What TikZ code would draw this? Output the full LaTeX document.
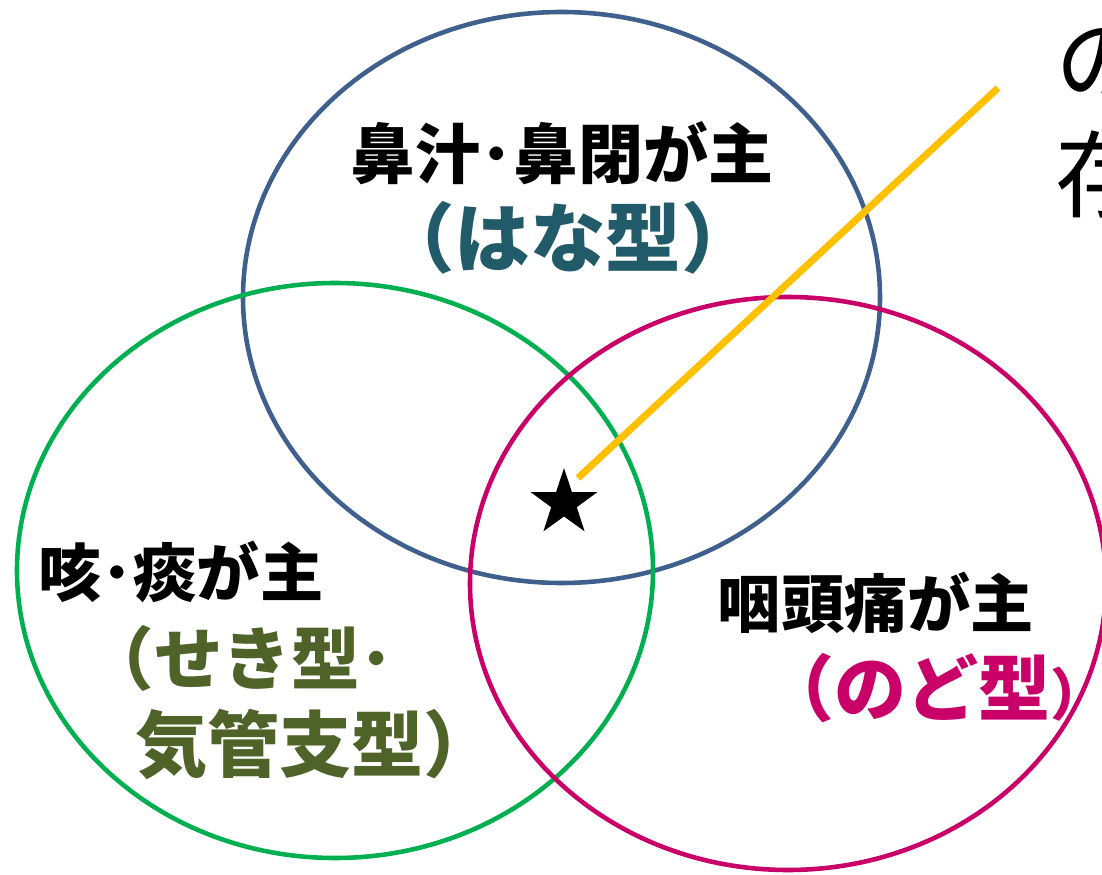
\documentclass[tikz,border=0pt]{standalone}
\usepackage{fontspec}
\usepackage{tikz}
\usetikzlibrary{shapes.geometric}
\newfontfamily\jp{Noto Sans CJK JP}
\definecolor{hanablue}{HTML}{3F5F8C}
\definecolor{sekigreen}{HTML}{00B050}
\definecolor{nodomag}{HTML}{C80068}
\definecolor{hanateal}{HTML}{215A69}
\definecolor{sekiolive}{HTML}{4F6228}
\definecolor{leadyellow}{HTML}{FFC000}
\tikzset{
	ring/.style={line width=1.3pt},
	head/.style={font=\jp\bfseries\fontsize{18.5}{22}\selectfont, inner sep=0pt},
	kind/.style={font=\jp\bfseries\fontsize{20.5}{24}\selectfont, inner sep=0pt},
}

\begin{document}
\begin{tikzpicture}
	
	\useasboundingbox (0,0) rectangle (11.02,-8.75);
	\clip (0,0) rectangle (11.02,-8.75);
	
	\draw[ring, hanablue]  (5.615,-2.975) ellipse (3.185 and 2.855);
	\draw[ring, sekigreen] (3.35,-5.705) ellipse (3.18 and 2.875);
	\draw[ring, nodomag]   (7.88,-5.835) ellipse (3.18 and 2.865);
	
	\node[head] (hanahead) at (5.62,-1.53) {鼻汁･鼻閉が主};
	\node[kind, text=hanateal, font=\jp\bfseries\fontsize{21.5}{24}\selectfont] (hanakind) at (5.68,-2.38) {（はな型）};
	
	\node[head, anchor=west, font=\jp\bfseries\fontsize{18}{22}\selectfont] (sekihead) at (0.38,-5.72) {咳･痰が主};
	\node[kind, text=sekiolive, anchor=west, font=\jp\bfseries\fontsize{19.5}{24}\selectfont] (sekikind) at (0.85,-6.58) {（せき型･};
	\node[kind, text=sekiolive, anchor=west] (sekikind2) at (1.35,-7.44) {気管支型）};
	
	\node[head, font=\jp\bfseries\fontsize{18}{22}\selectfont] (nodohead) at (8.76,-6.03) {咽頭痛が主};
	\node[kind, text=nodomag, anchor=west] (nodokind) at (7.62,-6.88) {（のど型{\fontsize{16}{20}\selectfont ）}};
	
	\node[star, star points=5, star point ratio=2.6, fill=black, inner sep=0pt, minimum size=0.7cm] (star) at (5.64,-5.03) {};
	
	\coordinate (lead) at (5.78,-4.78);
	\coordinate (note) at (9.98,-0.88);
	\draw[leadyellow, line width=2pt] (lead) -- (note);
	
	\node[font=\jp\fontsize{27}{30}\selectfont, anchor=west, inner sep=0pt] (notea) at (10.55,-0.64) {の};
	\node[font=\jp\fontsize{27}{30}\selectfont, anchor=west, inner sep=0pt] (noteb) at (10.55,-1.74) {存};
	
\end{tikzpicture}
\end{document}
